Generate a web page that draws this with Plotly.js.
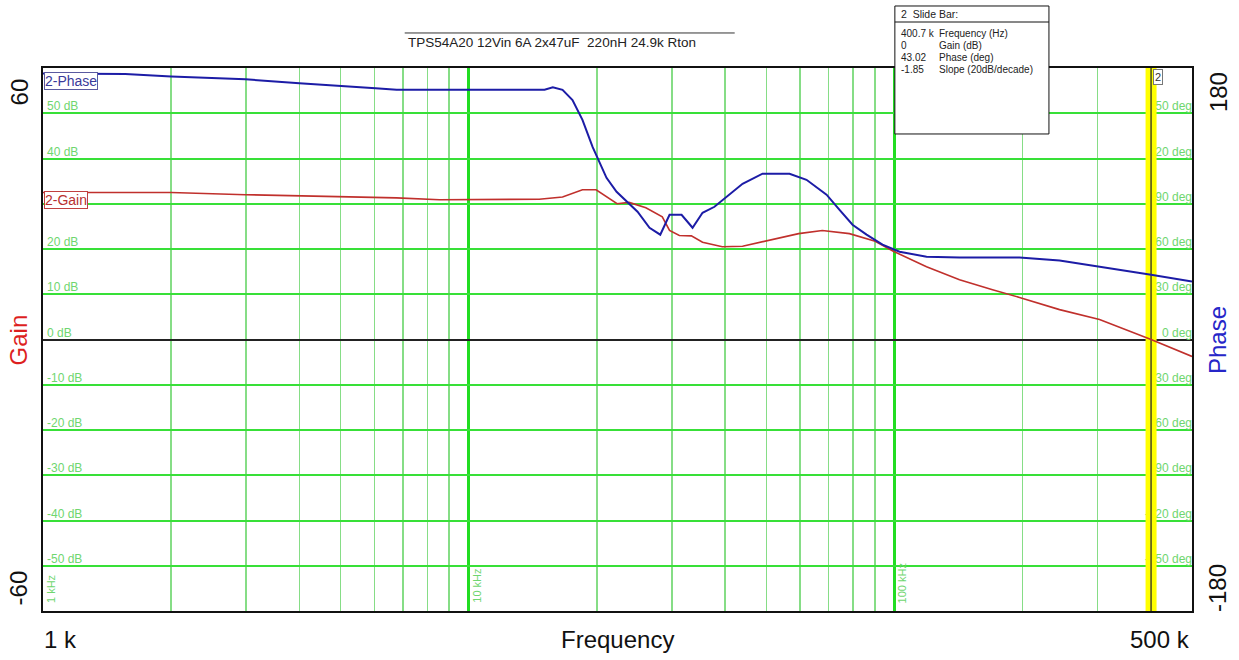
<!DOCTYPE html>
<html>
<head>
<meta charset="utf-8">
<script src="https://cdn.plot.ly/plotly-3.0.1.min.js"></script>
<style>html,body{margin:0;padding:0;background:#fff;}#chart{width:1239px;height:660px;}</style>
</head>
<body>
<div id="chart"></div>
<script>
// ---- data ----
const phaseFreq = [1000, 1560, 2000, 2990, 4000, 5000, 6040, 6770, 10000, 15070, 15760, 16610, 17530, 18500, 19540, 20290, 21070, 22250, 23490, 24920, 26590, 28180, 29630, 31620, 33560, 35420, 37780, 40320, 43980, 49000, 56700, 62150, 69270, 74310, 79720, 86010, 93760, 102800, 118950, 142200, 196700, 244300, 303200, 400700, 500000];
const phaseDeg = [176.4, 176.0, 174.3, 172.5, 169.9, 168.3, 166.6, 165.6, 165.6, 165.6, 167.2, 165.5, 158.8, 145.6, 127.7, 117.1, 107.2, 97.9, 91.3, 84.7, 74.1, 69.5, 82.7, 82.7, 74.1, 84.0, 88.0, 94.6, 103.2, 109.9, 109.9, 105.9, 96.0, 86.0, 76.1, 69.5, 62.9, 58.2, 54.9, 54.3, 54.3, 52.3, 48.3, 43.0, 38.4];
const gainFreq = [1000, 2000, 2990, 4970, 6770, 8540, 11610, 14640, 16610, 18500, 19920, 22310, 23810, 26070, 28490, 29630, 31240, 33340, 35420, 39410, 43980, 51640, 59570, 67700, 78400, 90100, 99400, 118950, 129700, 142200, 170000, 196700, 244300, 268000, 303200, 400700, 500000];
const gainDb = [32.5, 32.5, 32.0, 31.6, 31.3, 30.9, 30.9, 31.0, 31.5, 33.1, 33.1, 30.0, 30.3, 29.1, 27.1, 24.1, 23.0, 22.9, 21.5, 20.5, 20.6, 22.1, 23.4, 24.1, 23.4, 21.7, 19.5, 16.1, 14.7, 13.2, 11.0, 9.3, 6.6, 5.6, 4.4, 0, -3.75];

const freqRange = [1000, 500000];
const gainRange = [-60, 60];
const phaseRange = [-180, 180];
// left grid labels (the 30 dB label is hidden behind the "2-Gain" tag in the reference)
const gainGridShown = [50, 40, 20, 10, 0, -10, -20, -30, -40, -50];
const gainGridLabels = ["50 dB", "40 dB", "20 dB", "10 dB", "0 dB", "-10 dB", "-20 dB", "-30 dB", "-40 dB", "-50 dB"];
const phaseGrid = [150, 120, 90, 60, 30, 0, -30, -60, -90, -120, -150];
const phaseGridLabels = ["150 deg", "120 deg", "90 deg", "60 deg", "30 deg", "0 deg", "-30 deg", "-60 deg", "-90 deg", "-120 deg", "-150 deg"];
const decadeFreqs = [1000, 10000, 100000];
const decadeLabels = ["1 kHz", "10 kHz", "100 kHz"];
const cursorFreq = 400700;
const cursorName = "2";
const readoutValues = ["400.7 k", "0", "43.02", "-1.85"];
const readoutNames = ["Frequency (Hz)", "Gain (dB)", "Phase (deg)", "Slope (20dB/decade)"];
const titleText = "TPS54A20 12Vin 6A 2x47uF  220nH 24.9k Rton";

// ---- drawing ----
const FONT = "Liberation Sans, Arial, sans-serif";
const GREEN_TXT = "#6fd66f";
const phaseToGain = (gainRange[1] - gainRange[0]) / (phaseRange[1] - phaseRange[0]);

const traces = [
  { // phase grid labels (right side) drawn on the gain axis so the cursor bar can cover them
    x: phaseGrid.map(() => freqRange[1]),
    y: phaseGrid.map(v => v * phaseToGain),
    text: phaseGridLabels,
    mode: "text", textposition: "top left",
    textfont: {family: FONT, size: 12, color: GREEN_TXT},
    hoverinfo: "skip", showlegend: false, cliponaxis: false,
    xaxis: "x", yaxis: "y"
  },
  { // cursor (slide bar)
    x: [cursorFreq, cursorFreq], y: gainRange,
    mode: "lines", line: {color: "#ffff00", width: 11},
    hoverinfo: "skip", showlegend: false
  },
  {
    x: [cursorFreq, cursorFreq], y: gainRange,
    mode: "lines", line: {color: "#4a4a20", width: 1.5},
    hoverinfo: "skip", showlegend: false
  },
  {
    x: gainFreq, y: gainDb, name: "2-Gain",
    mode: "lines", line: {color: "#c0302c", width: 1.6},
    showlegend: false, xaxis: "x", yaxis: "y"
  },
  {
    x: phaseFreq, y: phaseDeg, name: "2-Phase",
    mode: "lines", line: {color: "#1c1ca6", width: 2},
    showlegend: false, xaxis: "x", yaxis: "y2"
  }
];

const annotations = [];
gainGridShown.forEach((v, i) => annotations.push({
  x: 0.002, xref: "paper", y: v, yref: "y", xanchor: "left", yanchor: "bottom",
  text: gainGridLabels[i], showarrow: false, yshift: -2,
  font: {family: FONT, size: 12, color: GREEN_TXT}
}));
decadeFreqs.forEach((f, i) => annotations.push({
  x: Math.log10(f), xref: "x", y: gainRange[0], yref: "y", xanchor: "left", yanchor: "bottom",
  text: decadeLabels[i], showarrow: false, textangle: -90, xshift: 0, yshift: 6,
  font: {family: FONT, size: 11, color: GREEN_TXT}
}));
// trace labels
annotations.push({x: 0.001, xref: "paper", y: 0.976, yref: "paper", xanchor: "left", yanchor: "middle",
  text: "2-Phase", showarrow: false, bgcolor: "#fff", bordercolor: "#5a5aa0", borderwidth: 1, borderpad: 0,
  font: {family: FONT, size: 14, color: "#3a3a9a"}});
annotations.push({x: 0.001, xref: "paper", y: 0.7578, yref: "paper", xanchor: "left", yanchor: "middle",
  text: "2-Gain", showarrow: false, bgcolor: "#fff", bordercolor: "#c04040", borderwidth: 1, borderpad: 0,
  font: {family: FONT, size: 14, color: "#b83030"}});
// cursor tag
annotations.push({x: Math.log10(cursorFreq), xref: "x", y: 1, yref: "paper", xanchor: "left", yanchor: "top",
  text: cursorName, showarrow: false, xshift: 2, yshift: -1, bgcolor: "#fff", bordercolor: "#777", borderwidth: 1, borderpad: 1,
  font: {family: FONT, size: 11, color: "#333"}});
// big axis texts
const big = (text, x, y, color, angle, xa) => annotations.push({
  x: x, xref: "paper", y: y, yref: "paper", xanchor: xa || "center", yanchor: "middle",
  text: text, showarrow: false, textangle: angle || 0,
  font: {family: FONT, size: 24, color: color}
});
big("60", -0.0205, 0.9558, "#111", -90);
big("-60", -0.0205, 0.0424, "#111", -90);
big("Gain", -0.0205, 0.4991, "#dd1f1f", -90);
big("180", 1.0227, 0.9558, "#111", -90);
big("-180", 1.0227, 0.0424, "#111", -90);
big("Phase", 1.0227, 0.4991, "#2626c8", -90);
big("1 k", -0.0013, -0.0534, "#111", 0, "left");
big("Frequency", 0.5003, -0.0534, "#111", 0);
big("500 k", 1.0, -0.0534, "#111", 0, "right");
// slide bar readout
const boxL = 0.7414, boxR = 0.8755;
annotations.push({x: 0.7449, xref: "paper", y: 1.0994, yref: "paper", xanchor: "left", yanchor: "middle",
  text: cursorName + "  Slide Bar:", showarrow: false, font: {family: FONT, size: 10.5, color: "#222"}});
const rowY = [1.0627, 1.0406, 1.0185, 0.9964];
readoutValues.forEach((v, i) => {
  annotations.push({x: 0.7449, xref: "paper", y: rowY[i], yref: "paper", xanchor: "left", yanchor: "middle",
    text: v, showarrow: false, font: {family: FONT, size: 10, color: "#222"}});
  annotations.push({x: 0.7785, xref: "paper", y: rowY[i], yref: "paper", xanchor: "left", yanchor: "middle",
    text: readoutNames[i], showarrow: false, font: {family: FONT, size: 10, color: "#222"}});
});

const shapes = [
  {type: "line", xref: "paper", yref: "paper", x0: 0.3148, x1: 0.602, y0: 1.0645, y1: 1.0645,
   line: {color: "#333", width: 1}},
  {type: "rect", xref: "paper", yref: "paper", x0: boxL, x1: boxR, y0: 0.8785, y1: 1.1142,
   fillcolor: "#fff", line: {color: "#111", width: 1}, layer: "above"},
  {type: "line", xref: "paper", yref: "paper", x0: boxL, x1: boxR, y0: 1.0847, y1: 1.0847,
   line: {color: "#111", width: 1}, layer: "above"}
];

const layout = {
  width: 1239, height: 660,
  paper_bgcolor: "#fff", plot_bgcolor: "#fff",
  margin: {l: 43, r: 47, t: 68, b: 49},
  showlegend: false,
  title: {text: titleText, x: 0.4455, xanchor: "center", y: 0.936, yanchor: "middle",
          font: {family: FONT, size: 13.5, color: "#222"}},
  xaxis: {
    type: "log", range: [Math.log10(freqRange[0]), Math.log10(freqRange[1])],
    dtick: 1, showticklabels: false, ticks: "",
    showgrid: true, gridcolor: "#22dd22", gridwidth: 3,
    minor: {dtick: "D1", showgrid: true, gridcolor: "#86dd86", gridwidth: 1.5, ticks: ""},
    zeroline: false, showline: true, mirror: true, linecolor: "#111", linewidth: 2
  },
  yaxis: {
    range: gainRange, dtick: 10, showticklabels: false, ticks: "",
    showgrid: true, gridcolor: "#38e038", gridwidth: 2,
    zeroline: true, zerolinecolor: "#222", zerolinewidth: 2,
    showline: true, mirror: true, linecolor: "#111", linewidth: 2
  },
  yaxis2: {
    range: phaseRange, overlaying: "y", side: "right",
    showgrid: false, zeroline: false, showticklabels: false, ticks: "", showline: false
  },
  annotations: annotations,
  shapes: shapes
};

Plotly.newPlot("chart", traces, layout, {displayModeBar: false, staticPlot: true});
</script>
</body>
</html>
